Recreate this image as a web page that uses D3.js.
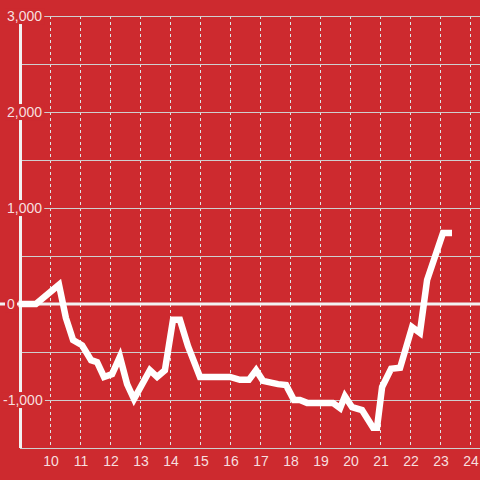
<!DOCTYPE html>
<html>
<head>
<meta charset="utf-8">
<script src="https://cdn.jsdelivr.net/npm/d3@7"></script>
<style>
html,body{margin:0;padding:0;background:#cd2a2f;}
svg{display:block;}
text{font-family:"Liberation Sans",Arial,sans-serif;}
</style>
</head>
<body>
<svg id="chart" width="480" height="480"></svg>
<script>
// data (x in years-ish units, y values)
const xs = [8.95, 9.53, 10.3, 10.53, 10.77, 11.07, 11.37, 11.57, 11.8, 12.07, 12.33, 12.57, 12.8,
  13.33, 13.57, 13.83, 14.1, 14.33, 14.6, 15.0, 16.0, 16.33, 16.63, 16.87, 17.1, 17.6, 17.87,
  18.13, 18.33, 18.57, 19.43, 19.67, 19.83, 20.07, 20.4, 20.77, 20.9, 21.07, 21.37, 21.67,
  22.07, 22.33, 22.57, 23.1, 23.4];
const values = [0, 0, 200, -145, -375, -430, -585, -605, -760, -730, -550, -835, -990,
  -690, -760, -690, -165, -165, -440, -760, -760, -790, -790, -690, -800, -835, -845,
  -1000, -1000, -1030, -1030, -1085, -960, -1075, -1105, -1290, -1290, -865, -675, -665,
  -240, -300, 250, 740, 740];
const xTicks = [10, 11, 12, 13, 14, 15, 16, 17, 18, 19, 20, 21, 22, 23, 24];
const yGrid = [3000, 2500, 2000, 1500, 1000, 500, -500, -1000, -1500];
const yLabels = [3000, 2000, 1000, 0, -1000];

const svg = d3.select("#chart");
const W = 480, H = 480;
const x = d3.scaleLinear().domain([9, 24 + 1/3]).range([20, 480]);
const y = d3.scaleLinear().domain([-1500, 3000]).range([448, 16]);
const bg = "#cd2a2f";

svg.append("rect").attr("width", W).attr("height", H).attr("fill", bg);

// vertical dashed grid
svg.append("g").selectAll("line").data(xTicks).join("line")
  .attr("x1", d => x(d) + 0.5).attr("x2", d => x(d) + 0.5)
  .attr("y1", y(3000)).attr("y2", y(-1500))
  .attr("stroke", "#dde6e6").attr("stroke-width", 1).attr("stroke-dasharray", "3,3");

// horizontal grid
svg.append("g").selectAll("line").data(yGrid).join("line")
  .attr("x1", x(9)).attr("x2", W)
  .attr("y1", d => y(d) + 0.5).attr("y2", d => y(d) + 0.5)
  .attr("stroke", "#cfcfcf").attr("stroke-width", 1);

// zero line
svg.append("line").attr("x1", 0).attr("x2", W)
  .attr("y1", y(0)).attr("y2", y(0))
  .attr("stroke", "#f2f2f2").attr("stroke-width", 3);

// y axis line
svg.append("line").attr("x1", x(9) + 0.5).attr("x2", x(9) + 0.5)
  .attr("y1", y(3000)).attr("y2", y(-1500))
  .attr("stroke", "#f2f2f2").attr("stroke-width", 3);

// y labels with background
const fmt = d3.format(",");
const yl = svg.append("g");
yLabels.forEach(v => {
  const t = yl.append("text")
    .attr("x", v < 0 ? 3 : 7).attr("y", y(v)).attr("dy", "0.36em")
    .attr("font-size", 14).attr("fill", "#f7dfdf")
    .text(fmt(v).replace("−", "-"));
  const b = t.node().getBBox();
  yl.insert("rect", () => t.node())
    .attr("x", b.x - 2).attr("y", b.y).attr("width", b.width + 4).attr("height", b.height)
    .attr("fill", bg);
});

// x labels
svg.append("g").selectAll("text").data(xTicks).join("text")
  .attr("x", d => x(d) + 1).attr("y", 466)
  .attr("text-anchor", "middle").attr("font-size", 14).attr("fill", "#f7dfdf")
  .text(d => d);

// data line
const line = d3.line().x((d, i) => x(xs[i])).y(d => y(d));
svg.append("path").datum(values)
  .attr("d", line)
  .attr("fill", "none").attr("stroke", "#ffffff").attr("stroke-width", 6.5)
  .attr("stroke-linejoin", "miter").attr("stroke-linecap", "butt");
</script>
</body>
</html>
